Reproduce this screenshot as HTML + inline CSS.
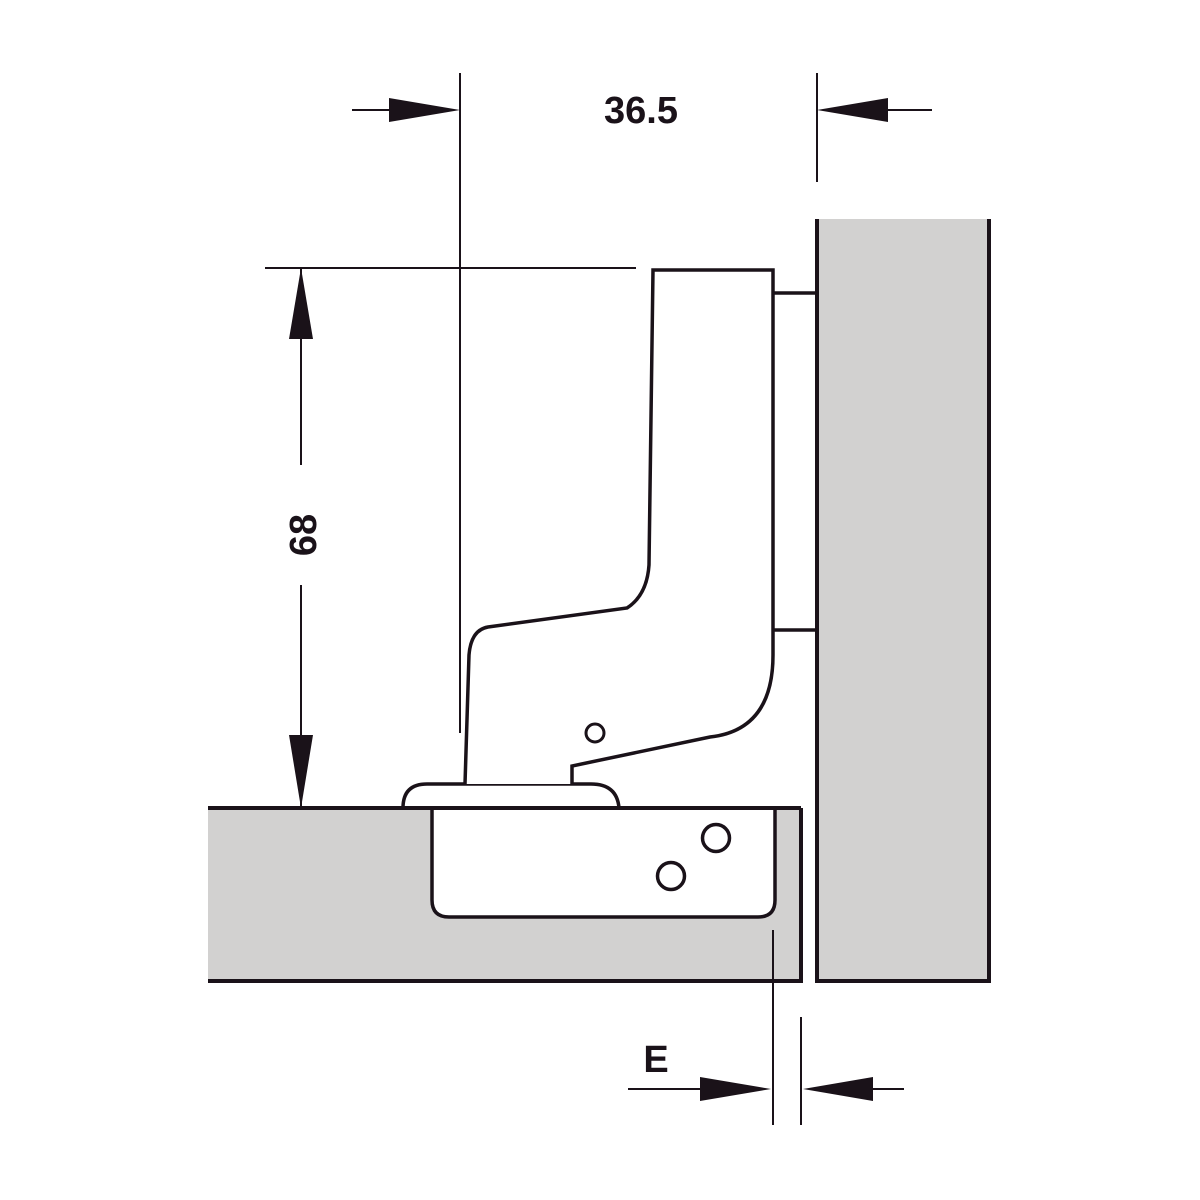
<!DOCTYPE html>
<html><head><style>html,body{margin:0;padding:0;background:#fff;}svg{display:block}</style></head>
<body>
<svg width="1200" height="1200" viewBox="0 0 1200 1200" xmlns="http://www.w3.org/2000/svg">
<rect width="1200" height="1200" fill="#fff"/>
<g stroke="#1a1219" fill="none">
<rect x="817" y="219" width="172" height="762" fill="#d2d1d0" stroke="none"/>
<path d="M817 219 V981 H989 V219" stroke-width="4"/>
<rect x="208" y="808" width="593" height="173" fill="#d2d1d0" stroke="none"/>
<path d="M801 808 V981 H208" stroke-width="4"/>
<path d="M432 808 V900 Q432 917 449 917 H758 Q775 917 775 900 V808" fill="#fff" stroke-width="3.5"/>
<circle cx="716" cy="838" r="13.5" stroke-width="3.5"/>
<circle cx="671" cy="876" r="13.5" stroke-width="3.5"/>
<path d="M403 808 Q403 784 427 784 H591 Q617 784 619 808" fill="#fff" stroke-width="3.5"/>
<path d="M208 808 H801" stroke-width="4"/>
<path d="M465 784 L469 655 Q471 630 488 627 L627 608 Q647 595 649 565 L653 270 H773 V655 Q773 730 710 737 L572 766 V784" fill="#fff" stroke-width="3.5"/>
<circle cx="595" cy="733" r="9" stroke-width="3"/>
<path d="M773 293 H817 M773 630 H817" stroke-width="3.5"/>
<g stroke-width="2">
<path d="M460 73 V733"/>
<path d="M265 268 H636"/>
<path d="M352 110 H392"/>
<path d="M817 73 V182"/>
<path d="M888 110 H932"/>
<path d="M301 268 V465 M301 585 V808"/>
<path d="M773 930 V1125 M801 1017 V1125"/>
<path d="M628 1089 H702 M871 1089 H904"/>
</g>
</g>
<g fill="#1a1219">
<polygon points="389,98 460,110 389,122"/>
<polygon points="888,98 817,110 888,122"/>
<polygon points="289,339 301,268 313,339"/>
<polygon points="289,735 301,808 313,735"/>
<polygon points="700,1077 771,1089 700,1101"/>
<polygon points="873,1077 803,1089 873,1101"/>
</g>
<g font-family="Liberation Sans, sans-serif" font-weight="bold" fill="#1a1219">
<text x="641" y="123" font-size="38" text-anchor="middle">36.5</text>
<text x="0" y="0" font-size="38" text-anchor="middle" transform="translate(316,535) rotate(-90)">68</text>
<text x="656" y="1072" font-size="38" text-anchor="middle">E</text>
</g>
</svg>
</body></html>
